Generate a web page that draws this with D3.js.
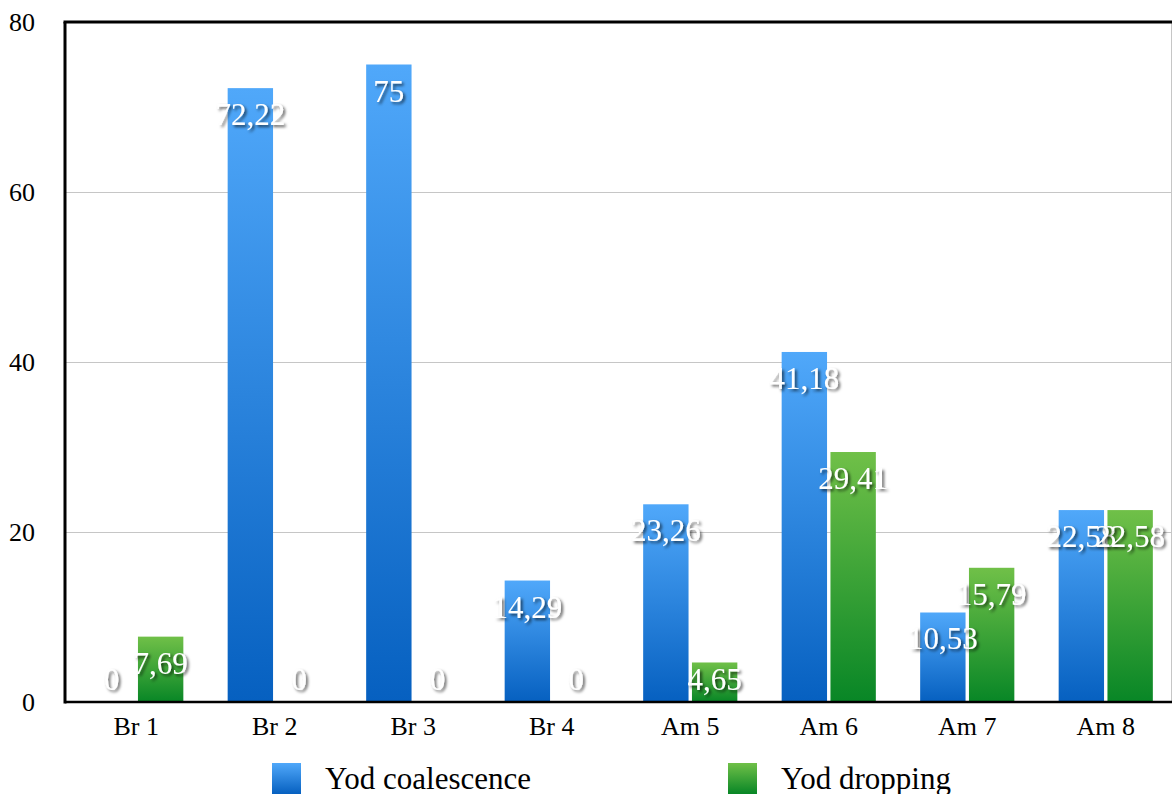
<!DOCTYPE html>
<html>
<head>
<meta charset="utf-8">
<script src="https://cdn.jsdelivr.net/npm/d3@7"></script>
<style>
  html, body { margin: 0; padding: 0; background: #fff; }
  svg { display: block; }
  text { font-family: "Liberation Serif", "Times New Roman", serif; }
</style>
</head>
<body>
<svg id="chart" width="1172" height="794"></svg>
<script>
// Chart data
const categories = ["Br 1", "Br 2", "Br 3", "Br 4", "Am 5", "Am 6", "Am 7", "Am 8"];
const seriesNames = ["Yod coalescence", "Yod dropping"];
const coalescence = [0, 72.22, 75, 14.29, 23.26, 41.18, 10.53, 22.58];
const dropping = [7.69, 0, 0, 0, 4.65, 29.41, 15.79, 22.58];
const yTicks = [0, 20, 40, 60, 80];

const seriesValues = [coalescence, dropping];
const rows = categories.map((c, i) => ({
  category: c,
  values: seriesNames.map((s, k) => ({ series: s, value: seriesValues[k][i] }))
}));

const svg = d3.select("#chart");
const plot = { left: 65, top: 22, right: 1171, bottom: 702 };

const defs = svg.append("defs");
const gradients = [
  { id: "gradBlue", top: "#50a8fa", bottom: "#0660c0" },
  { id: "gradGreen", top: "#70c048", bottom: "#088626" }
];
gradients.forEach(g => {
  const lg = defs.append("linearGradient").attr("id", g.id)
    .attr("x1", 0).attr("y1", 0).attr("x2", 0).attr("y2", 1);
  lg.append("stop").attr("offset", "0%").attr("stop-color", g.top);
  lg.append("stop").attr("offset", "100%").attr("stop-color", g.bottom);
});
const shadow = defs.append("filter").attr("id", "labelShadow")
  .attr("x", "-20%").attr("y", "-30%").attr("width", "150%").attr("height", "170%");
shadow.append("feDropShadow").attr("dx", 2).attr("dy", 2).attr("stdDeviation", 1.6)
  .attr("flood-color", "#000").attr("flood-opacity", 0.65);

const x0 = d3.scaleBand().domain(categories).range([67, 1175])
  .paddingInner(0.32).paddingOuter(0.16);
const x1 = d3.scaleBand().domain(seriesNames).range([0, x0.bandwidth()]).paddingInner(0.07);
const y = d3.scaleLinear().domain([0, 80]).range([plot.bottom, plot.top]);
const color = d3.scaleOrdinal().domain(seriesNames).range(["url(#gradBlue)", "url(#gradGreen)"]);

// Horizontal grid lines
svg.append("g").selectAll("line").data(yTicks.filter(t => t > 0 && t < 80)).join("line")
  .attr("x1", plot.left).attr("x2", plot.right)
  .attr("y1", d => y(d) + 0.5).attr("y2", d => y(d) + 0.5)
  .attr("stroke", "#c6c6c6").attr("stroke-width", 1);

// Right frame edge
svg.append("line").attr("x1", plot.right + 0.5).attr("x2", plot.right + 0.5)
  .attr("y1", plot.top).attr("y2", plot.bottom)
  .attr("stroke", "#c6c6c6").attr("stroke-width", 1);

// Bars
const groups = svg.append("g").selectAll("g").data(rows).join("g")
  .attr("transform", d => `translate(${x0(d.category)},0)`);
groups.selectAll("rect").data(d => d.values).join("rect")
  .attr("x", d => x1(d.series))
  .attr("width", x1.bandwidth())
  .attr("y", d => y(d.value))
  .attr("height", d => y(0) - y(d.value))
  .attr("fill", d => color(d.series));

// Frame: top, left and bottom axis lines
svg.append("line").attr("x1", plot.left - 1.5).attr("x2", plot.right + 1)
  .attr("y1", plot.top).attr("y2", plot.top)
  .attr("stroke", "#000").attr("stroke-width", 3);
svg.append("line").attr("x1", plot.left).attr("x2", plot.left)
  .attr("y1", plot.top).attr("y2", plot.bottom + 1.5)
  .attr("stroke", "#000").attr("stroke-width", 3);
svg.append("line").attr("x1", plot.left).attr("x2", plot.right + 1)
  .attr("y1", plot.bottom).attr("y2", plot.bottom)
  .attr("stroke", "#000").attr("stroke-width", 2.5);

// Y axis labels
const yAxis = d3.axisLeft(y).tickValues(yTicks).tickSize(0).tickPadding(0).tickFormat(d3.format("d"));
const yG = svg.append("g").attr("transform", "translate(35,0)").call(yAxis);
yG.select(".domain").remove();
yG.selectAll("text").attr("font-size", 26).attr("fill", "#000")
  .attr("font-family", "'Liberation Serif', serif");

// X axis labels
const xAxis = d3.axisBottom(x0).tickSize(0).tickPadding(0);
const xG = svg.append("g").attr("transform", `translate(0,${plot.bottom + 15})`).call(xAxis);
xG.select(".domain").remove();
xG.selectAll("text").attr("font-size", 26).attr("fill", "#000")
  .attr("font-family", "'Liberation Serif', serif");

// Value labels
const fmt = v => String(v).replace(".", ",");
groups.selectAll("text.val").data(d => d.values).join("text")
  .attr("class", "val")
  .attr("x", d => x1(d.series) + x1.bandwidth() / 2)
  .attr("y", d => Math.min(y(d.value) + 37, plot.bottom - 12))
  .attr("text-anchor", "middle")
  .attr("font-size", 31)
  .attr("fill", "#fff")
  .attr("filter", "url(#labelShadow)")
  .text(d => fmt(d.value));

// Legend
const legendX = [272, 728];
const legend = svg.append("g").selectAll("g").data(seriesNames).join("g")
  .attr("transform", (d, i) => `translate(${legendX[i]},763)`);
legend.append("rect").attr("width", 29).attr("height", 31).attr("fill", d => color(d));
legend.append("text").attr("x", 53).attr("y", 26).attr("font-size", 31).attr("fill", "#000")
  .text(d => d);
</script>
</body>
</html>
